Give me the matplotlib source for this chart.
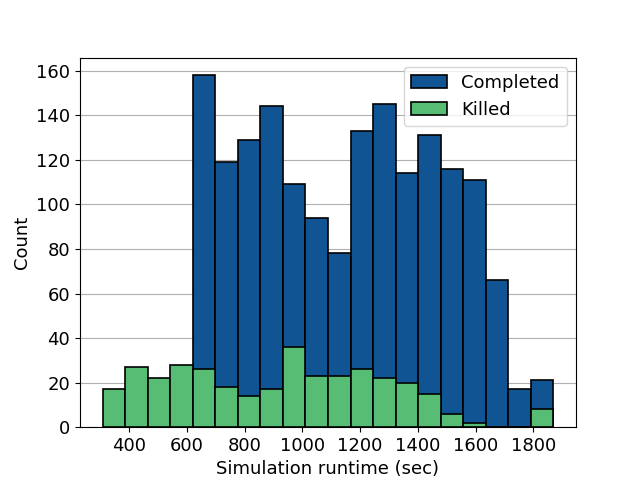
import numpy as np
import matplotlib
matplotlib.use("Agg")
import matplotlib.pyplot as plt

# bin edges of the runtime histogram (sec)
bin_start = 307
bin_stop = 1870
n_bins = 20

completed = [0, 0, 0, 0, 158, 119, 129, 144, 109, 94,
             78, 133, 145, 114, 131, 116, 111, 66, 17, 21]
killed = [17, 27, 22, 28, 26, 18, 14, 17, 36, 23,
          23, 26, 22, 20, 15, 6, 2, 0, 0, 8]

plt.rcParams["font.size"] = 13

edges = np.linspace(bin_start, bin_stop, n_bins + 1)
width = np.diff(edges)

fig, ax = plt.subplots(figsize=(6.4, 4.8), dpi=100)
ax.bar(edges[:-1], completed, width=width, align="edge", color="#115493",
       edgecolor="black", linewidth=1.2, label="Completed", zorder=2)
ax.bar(edges[:-1], killed, width=width, align="edge", color="#57bd75",
       edgecolor="black", linewidth=1.2, label="Killed", zorder=3)
ax.yaxis.grid(True, color="#b0b0b0", linewidth=0.8, zorder=0)
ax.set_axisbelow(True)
ax.set_xlabel("Simulation runtime (sec)")
ax.set_ylabel("Count")
ax.legend(loc="upper right")
fig.savefig("out.png", dpi=100)
